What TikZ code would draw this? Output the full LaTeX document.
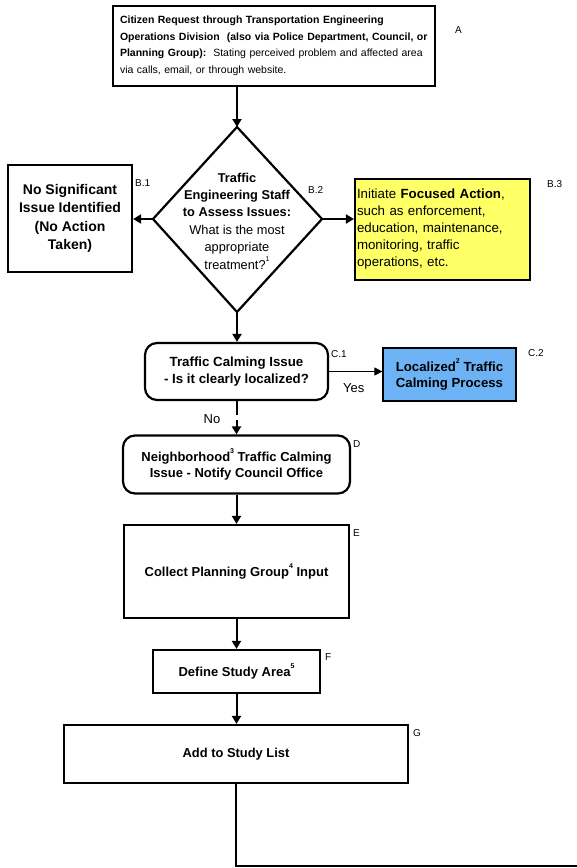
\documentclass[tikz,border=0pt]{standalone}
\usepackage{fontspec}
\setmainfont{Liberation Sans}
\usetikzlibrary{arrows.meta}

\newcommand{\fsz}[2]{\fontsize{#1}{#2}\selectfont}
\newcommand{\supnum}[1]{\raisebox{0.62em}{\fsz{7}{7}#1}}

\definecolor{actyellow}{RGB}{255,255,102}
\definecolor{locblue}{RGB}{108,178,245}

\tikzset{
  box/.style={draw=black, line width=2.2pt, inner sep=0pt, align=center,
              font=\fsz{13}{17}\bfseries},
  rbox/.style={box, rounded corners=12pt},
  tag/.style={inner sep=0pt, anchor=west, font=\fsz{10}{12}},
  arr/.style={line width=2pt, -{Triangle[length=8pt,width=9pt]}},
  thinarr/.style={line width=0.9pt, -{Triangle[length=8pt,width=8pt]}},
  plain/.style={line width=2pt},
  note/.style={inner sep=0pt, font=\fsz{13}{15}}
}

\begin{document}
\begin{tikzpicture}[x=1pt, y=-1pt]
\useasboundingbox (0,0) rectangle (576,868);

% A: incoming request
\node[box, minimum width=322pt, minimum height=80pt, text width=308pt,
      align=left, font=\fsz{10.5}{16.5}] (A) at (274,46)
  {\textbf{Citizen Request through Transportation Engineering}\\
   \textbf{Operations Division\ \ (also via Police Department, Council, or}\\
   \textbf{Planning Group):}\ \ Stating perceived problem and affected area\\
   via calls, email, or through website.};
\node[tag] (tA) at (455,30) {A};

% B.2: assessment decision
\coordinate (dN) at (237,127);
\coordinate (dS) at (237,312);
\coordinate (dW) at (153,219);
\coordinate (dE) at (322,219);
\draw[line width=2.2pt, line join=miter] (dN) -- (dE) -- (dS) -- (dW) -- cycle;
\node[align=center, inner sep=0pt, font=\fsz{12.8}{17.4}] (dtext) at (237,221)
  {\textbf{Traffic}\\ \textbf{Engineering Staff}\\ \textbf{to Assess Issues:}\\
   What is the most\\ appropriate\\ treatment?\supnum{1}};
\node[tag] (tB2) at (308,190) {B.2};

% B.1: no action
\node[box, minimum width=124pt, minimum height=107pt, font=\fsz{14}{18.5}\bfseries]
  (B1) at (70,218.5)
  {No Significant\\ Issue Identified\\ (No Action\\ Taken)};
\node[tag] (tB1) at (135,183) {B.1};

% B.3: focused action
\node[box, fill=actyellow, minimum width=175pt, minimum height=101pt,
      text width=171pt, align=left, font=\fsz{13.3}{17}] (B3) at (442.5,229.5)
  {Initiate \textbf{Focused Action},\\ such as enforcement,\\
   education, maintenance,\\ monitoring, traffic\\ operations, etc.};
\node[tag] (tB3) at (547,184) {B.3};

% C.1: localized?
\node[rbox, minimum width=183pt, minimum height=57pt, font=\fsz{13.3}{17}\bfseries]
  (C1) at (236.5,371.5)
  {Traffic Calming Issue\\ - Is it clearly localized?};
\node[tag] (tC1) at (331,354) {C.1};

% C.2: localized process
\node[box, fill=locblue, line width=1.2pt, minimum width=133pt, minimum height=53pt,
      font=\fsz{13.2}{16.5}\bfseries] (C2) at (449.5,374.5)
  {Localized\supnum{2} Traffic\\ Calming Process};
\node[tag] (tC2) at (528,353) {C.2};

% D: neighborhood issue
\node[rbox, minimum width=227pt, minimum height=58pt, font=\fsz{13}{16.5}\bfseries]
  (D) at (236.5,464.5)
  {Neighborhood\supnum{3} Traffic Calming\\ Issue - Notify Council Office};
\node[tag] (tD) at (353,444) {D};

% E, F, G: study steps
\node[box, minimum width=225pt, minimum height=93pt]
  (E) at (236.5,571.5) {Collect Planning Group\supnum{4} Input};
\node[tag] (tE) at (353,533) {E};

\node[box, minimum width=167pt, minimum height=43pt]
  (F) at (236.5,671.5) {Define Study Area\supnum{5}};
\node[tag] (tF) at (325,657) {F};

\node[box, minimum width=344pt, minimum height=58pt, font=\fsz{12.9}{16}\bfseries]
  (G) at (236,754) {Add to Study List};
\node[tag] (tG) at (413,733) {G};

% connectors
\draw[arr] (A.south -| dN) -- (dN);
\draw[arr] (dW) -- (dW -| B1.east);
\draw[arr] (dE) -- (dE -| B3.west);
\draw[arr] (dS) -- (dS |- C1.north);
\draw[thinarr] (C1.east) -- (C1.east -| C2.west);
\node[note, anchor=west] (yes) at (343,388) {Yes};
\draw[arr, dash pattern=on 14pt off 5pt on 40pt] (C1.south) -- (C1.south |- D.north);
\node[note] (no) at (212,419) {No};
\draw[arr] (D.south) -- (D.south |- E.north);
\draw[arr] (E.south) -- (E.south |- F.north);
\draw[arr] (F.south) -- (F.south |- G.north);
\coordinate (turn) at (236,866);
\coordinate (exit) at (577,866);
\draw[plain] (G.south) -- (turn) -- (exit);
\end{tikzpicture}
\end{document}
